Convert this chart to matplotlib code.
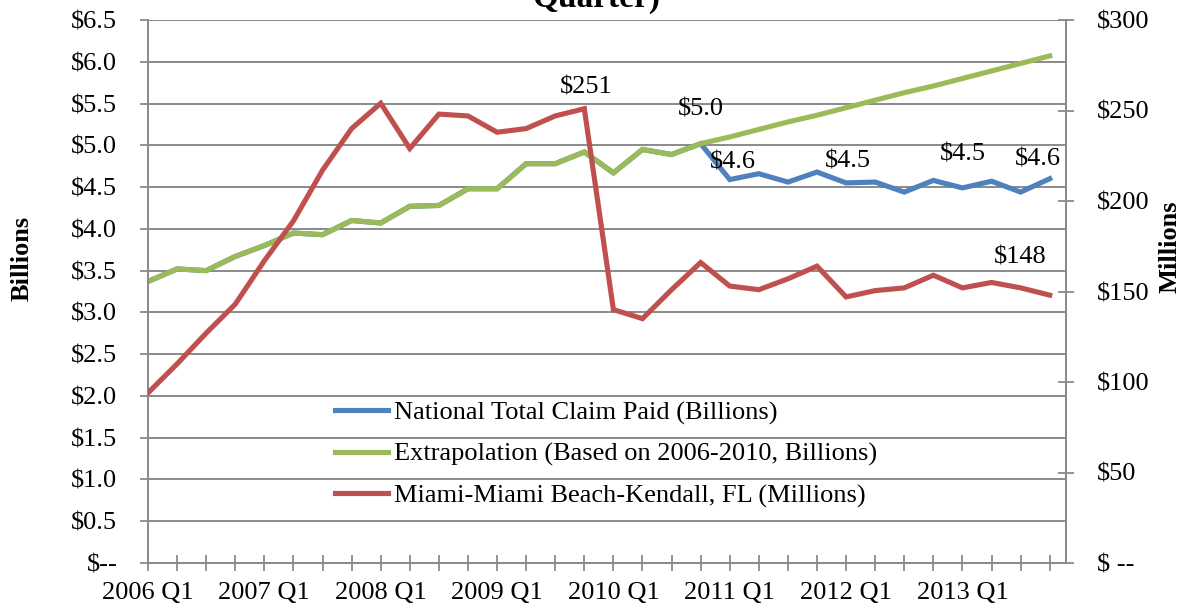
import matplotlib
matplotlib.use('Agg')
import matplotlib.pyplot as plt
from matplotlib.ticker import FixedLocator, FixedFormatter

plt.rcParams['font.family'] = ['Liberation Serif', 'DejaVu Serif']

quarters = ["2006 Q1", "2006 Q2", "2006 Q3", "2006 Q4",
            "2007 Q1", "2007 Q2", "2007 Q3", "2007 Q4",
            "2008 Q1", "2008 Q2", "2008 Q3", "2008 Q4",
            "2009 Q1", "2009 Q2", "2009 Q3", "2009 Q4",
            "2010 Q1", "2010 Q2", "2010 Q3", "2010 Q4",
            "2011 Q1", "2011 Q2", "2011 Q3", "2011 Q4",
            "2012 Q1", "2012 Q2", "2012 Q3", "2012 Q4",
            "2013 Q1", "2013 Q2", "2013 Q3", "2013 Q4"]

national = [3.37, 3.52, 3.50, 3.67, 3.80, 3.95, 3.93, 4.10,
            4.07, 4.27, 4.28, 4.48, 4.48, 4.78, 4.78, 4.92,
            4.67, 4.95, 4.89, 5.02, 4.59, 4.66, 4.56, 4.68,
            4.55, 4.56, 4.44, 4.58, 4.49, 4.57, 4.44, 4.60]

extrapolation = [3.37, 3.52, 3.50, 3.67, 3.80, 3.95, 3.93, 4.10,
                 4.07, 4.27, 4.28, 4.48, 4.48, 4.78, 4.78, 4.92,
                 4.67, 4.95, 4.89, 5.02, 5.10, 5.19, 5.28, 5.36,
                 5.45, 5.54, 5.63, 5.71, 5.80, 5.89, 5.98, 6.07]

miami = [94, 110, 127, 143, 167, 189, 217, 240,
         254, 229, 248, 247, 238, 240, 247, 251,
         140, 135, 151, 166, 153, 151, 157, 164,
         147, 150.5, 152, 159, 152, 155, 152, 148]

series_names = ["National Total Claim Paid (Billions)",
                "Extrapolation (Based on 2006-2010, Billions)",
                "Miami-Miami Beach-Kendall, FL (Millions)"]

left_ticks = [0, 0.5, 1.0, 1.5, 2.0, 2.5, 3.0, 3.5, 4.0, 4.5, 5.0, 5.5, 6.0, 6.5]
left_labels = ["$--", "$0.5", "$1.0", "$1.5", "$2.0", "$2.5", "$3.0", "$3.5",
               "$4.0", "$4.5", "$5.0", "$5.5", "$6.0", "$6.5"]
right_ticks = [0, 50, 100, 150, 200, 250, 300]
right_labels = ["$ --", "$50", "$100", "$150", "$200", "$250", "$300"]

BLUE, GREEN, RED = "#4F81BD", "#9BBB59", "#C0504D"
GRAY = "#8a8a8a"
FS = 19

fig = plt.figure(figsize=(11.83, 6.09), dpi=100)
ax = fig.add_axes([148/1183, 1-563/609, (1066-148)/1183, (563-20)/609])
ax2 = ax.twinx()

x = list(range(len(quarters)))
l1, = ax.plot(x, national, color=BLUE, lw=3.7, solid_joinstyle='miter', zorder=2)
l2, = ax.plot(x, extrapolation, color=GREEN, lw=3.7, solid_joinstyle='miter', zorder=3)
l3, = ax2.plot(x, miami, color=RED, lw=3.7, solid_joinstyle='miter', zorder=3)

ax.set_xlim(0, 31.56)
ax.set_ylim(0, 6.5)
ax2.set_ylim(0, 300)

ax.yaxis.set_major_locator(FixedLocator(left_ticks))
ax.yaxis.set_major_formatter(FixedFormatter(left_labels))
ax2.yaxis.set_major_locator(FixedLocator(right_ticks))
ax2.yaxis.set_major_formatter(FixedFormatter(right_labels))

ax.xaxis.set_major_locator(FixedLocator(x))
ax.xaxis.set_major_formatter(FixedFormatter([q if q.endswith("Q1") else "" for q in quarters]))

ax.grid(axis='y', color=GRAY, lw=1.4, zorder=0)
ax.set_axisbelow(True)

for a in (ax, ax2):
    for s in a.spines.values():
        s.set_color(GRAY)
        s.set_linewidth(1.3)
    a.spines['top'].set_visible(False)

ax.tick_params(axis='y', direction='out', length=5.8, width=1.3, color=GRAY,
               labelsize=FS, pad=16.3)
ax.tick_params(axis='x', direction='inout', length=11.5, width=1.3, color=GRAY,
               labelsize=FS, pad=8.0)
ax2.tick_params(axis='y', direction='inout', length=11, width=1.3, color=GRAY,
                labelsize=FS, pad=16.6)

# data labels
labels_left = [(19, "$5.0", 0, 34), (20, "$4.6", 3, 17), (24, "$4.5", 2, 21),
               (28, "$4.5", 0, 33), (31, "$4.6", -12, 19)]
for i, txt, dx, dy in labels_left:
    ax.annotate(txt, xy=(i, national[i]), xytext=(dx, dy), textcoords='offset pixels',
                ha='center', va='center', fontsize=FS, annotation_clip=False, zorder=5)
labels_right = [(15, "$251", 2, 21), (31, "$148", -29, 38)]
for i, txt, dx, dy in labels_right:
    ax2.annotate(txt, xy=(i, miami[i]), xytext=(dx, dy), textcoords='offset pixels',
                 ha='center', va='center', fontsize=FS, annotation_clip=False, zorder=5)

leg = ax2.legend([l1, l2, l3], series_names, loc='upper left',
                 bbox_to_anchor=(335/1183, 1-401/609), bbox_transform=fig.transFigure,
                 frameon=False, fontsize=FS, handlelength=2.0, handletextpad=0.22,
                 labelspacing=0.67, borderpad=0, borderaxespad=0)

fig.text(22/1183, 1-258/609, "Billions", rotation=90, ha='center', va='center',
         fontsize=FS, fontweight='bold')
fig.text(1170/1183, 1-247/609, "Millions", rotation=90, ha='center', va='center',
         fontsize=FS, fontweight='bold')
fig.text(596/1183, 1-7/609, "Quarter)", ha='center', va='baseline',
         fontsize=24, fontweight='bold')

fig.savefig("out.png", dpi=100)
